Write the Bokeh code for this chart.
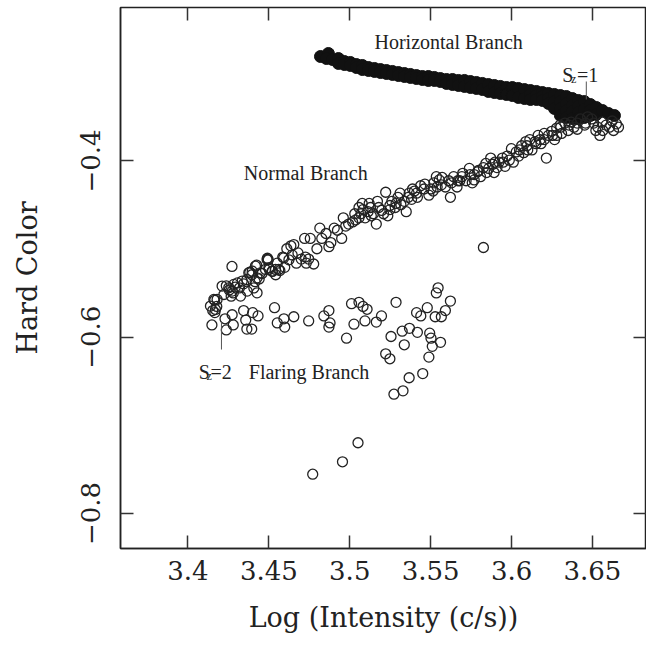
import math
from bokeh.plotting import figure
from bokeh.models import LinearAxis, FixedTicker, Range1d, ColumnDataSource
from bokeh.core.properties import value
from bokeh.embed import file_html
from bokeh.resources import INLINE

# ---------------- data ----------------
# Horizontal branch (filled circles)
hb_x = [3.4819, 3.4868, 3.4856, 3.4893, 3.4930, 3.4930, 3.4967, 3.4967, 3.5004, 3.5004,
        3.5041, 3.5041, 3.5078, 3.5078, 3.5116, 3.5116, 3.5153, 3.5153, 3.5190, 3.5190,
        3.5227, 3.5227, 3.5264, 3.5264, 3.5301, 3.5301, 3.5338, 3.5338, 3.5375, 3.5375,
        3.5412, 3.5412, 3.5449, 3.5449, 3.5486, 3.5486, 3.5523, 3.5523, 3.5560, 3.5560,
        3.5598, 3.5598, 3.5635, 3.5635, 3.5672, 3.5672, 3.5709, 3.5709, 3.5746, 3.5746,
        3.5783, 3.5783, 3.5820, 3.5820, 3.5857, 3.5857, 3.5894, 3.5894, 3.5931, 3.5931,
        3.5968, 3.5968, 3.6005, 3.6005, 3.6042, 3.6042, 3.6080, 3.6080,
        3.6117, 3.6117, 3.6117, 3.6154, 3.6154, 3.6154, 3.6191, 3.6191, 3.6191,
        3.6228, 3.6228, 3.6228, 3.6265, 3.6265, 3.6265,
        3.6302, 3.6302, 3.6302, 3.6302, 3.6339, 3.6339, 3.6339, 3.6339,
        3.6376, 3.6376, 3.6376, 3.6376, 3.6413, 3.6413, 3.6413, 3.6413,
        3.6450, 3.6450, 3.6450, 3.6487, 3.6487, 3.6487, 3.6524, 3.6524,
        3.6562, 3.6599, 3.6636]
hb_y = [-0.2814, -0.2780, -0.2837, -0.2848, -0.2837, -0.2893, -0.2871, -0.2905, -0.2882, -0.2916,
        -0.2905, -0.2939, -0.2916, -0.2962, -0.2939, -0.2973, -0.2950, -0.2984, -0.2962, -0.2996,
        -0.2973, -0.3007, -0.2984, -0.3018, -0.2996, -0.3030, -0.3007, -0.3041, -0.3018, -0.3052,
        -0.3030, -0.3064, -0.3041, -0.3075, -0.3041, -0.3086, -0.3052, -0.3086, -0.3064, -0.3098,
        -0.3075, -0.3120, -0.3075, -0.3132, -0.3086, -0.3143, -0.3086, -0.3154, -0.3098, -0.3166,
        -0.3109, -0.3177, -0.3120, -0.3189, -0.3132, -0.3211, -0.3143, -0.3223, -0.3154, -0.3234,
        -0.3166, -0.3245, -0.3166, -0.3257, -0.3177, -0.3279, -0.3189, -0.3291,
        -0.3200, -0.3245, -0.3302, -0.3211, -0.3257, -0.3302, -0.3223, -0.3268, -0.3313,
        -0.3234, -0.3291, -0.3347, -0.3245, -0.3325, -0.3404,
        -0.3257, -0.3325, -0.3404, -0.3484, -0.3268, -0.3347, -0.3427, -0.3506,
        -0.3291, -0.3370, -0.3438, -0.3518, -0.3313, -0.3381, -0.3450, -0.3518,
        -0.3325, -0.3416, -0.3506, -0.3359, -0.3427, -0.3484, -0.3393, -0.3472,
        -0.3427, -0.3461, -0.3484]

# Normal branch (open circles)
nb_x = [3.4165, 3.4178, 3.4237, 3.4255, 3.4267, 3.4272, 3.4293, 3.4280, 3.4306, 3.4318,
        3.4344, 3.4364, 3.4382, 3.4395, 3.4407, 3.4415, 3.4425, 3.4440, 3.4458, 3.4491,
        3.4502, 3.4496, 3.4522, 3.4542, 3.4552, 3.4568, 3.4586, 3.4598, 3.4611, 3.4624,
        3.4636, 3.4644, 3.4654, 3.4670, 3.4680, 3.4700, 3.4721, 3.4726, 3.4731, 3.4746,
        3.4756, 3.4777, 3.4797, 3.4815, 3.4827, 3.4853, 3.4871, 3.4883, 3.4904, 3.4924,
        3.4950, 3.4960, 3.4975, 3.4993, 3.5018, 3.5036, 3.5057, 3.5069, 3.5082, 3.5095,
        3.5113, 3.5128, 3.5146, 3.5164, 3.5179, 3.5197, 3.5222, 3.5235, 3.5248, 3.5260,
        3.5281, 3.5298, 3.5316, 3.5337, 3.5349, 3.5367, 3.5382, 3.5400, 3.5418, 3.5438,
        3.5459, 3.5464, 3.5489, 3.5502, 3.5520, 3.5535, 3.5553, 3.5571, 3.5591, 3.5612,
        3.5622, 3.5629, 3.5642, 3.5663, 3.5680, 3.5698, 3.5719, 3.5739, 3.5757, 3.5769,
        3.5790, 3.5808, 3.5826, 3.5841, 3.5859, 3.5871, 3.5892, 3.5910, 3.5922, 3.5943,
        3.5960, 3.5973, 3.5999, 3.6011, 3.6029, 3.6044, 3.6062, 3.6075, 3.6095, 3.6113,
        3.6126, 3.6146, 3.6164, 3.6182, 3.6202, 3.6215, 3.6228, 3.6248, 3.6266, 3.6279,
        3.6299, 3.6309, 3.6330, 3.6350, 3.6368, 3.6386, 3.6406, 3.6426, 3.6452, 3.6470,
        3.6508, 3.6533, 3.6546, 3.6564, 3.6584, 3.6605, 3.6630, 3.6648, 3.6661, 3.6622,
        3.6559, 3.6521, 3.6495,
        3.5077, 3.5120, 3.5171, 3.5209, 3.5133, 3.5286, 3.5311, 3.5388, 3.5413, 3.5540,
        3.5566, 3.5693, 3.5744, 3.5795, 3.5846, 3.5897, 3.5948, 3.6049, 3.6100, 3.6151,
        3.6202, 3.6253, 3.6304, 3.6355, 3.6406, 3.6457, 3.6279, 3.6177, 3.6088, 3.5986,
        3.5884, 3.5769, 3.5668, 3.5515, 3.5362, 3.5248, 3.5057, 3.5031,
        3.4211, 3.4252, 3.4273, 3.4283, 3.4335, 3.4376, 3.4397, 3.4417, 3.4427, 3.4448,
        3.4479, 3.4489, 3.4500, 3.4520, 3.4541, 3.4561, 3.4592,
        3.4160, 3.4180, 3.4222, 3.4325, 3.4366, 3.4427, 3.4139, 3.4170]
nb_y = [-0.5581, -0.5651, -0.5417, -0.5464, -0.5534, -0.5197, -0.5431, -0.5497, -0.5384, -0.5441,
        -0.5394, -0.5347, -0.5263, -0.5291, -0.5441, -0.5370, -0.5183, -0.5338, -0.5277, -0.5104,
        -0.5230, -0.5122, -0.5253, -0.5291, -0.5160, -0.5244, -0.5090, -0.5207, -0.4996, -0.5122,
        -0.4963, -0.5066, -0.4949, -0.5160, -0.5043, -0.5113, -0.4879, -0.5090, -0.5160, -0.5113,
        -0.4879, -0.5169, -0.4996, -0.4762, -0.4879, -0.4823, -0.4973, -0.4926, -0.4762, -0.4786,
        -0.4879, -0.4645, -0.4739, -0.4716, -0.4692, -0.4669, -0.4528, -0.4599, -0.4552, -0.4645,
        -0.4575, -0.4528, -0.4599, -0.4716, -0.4528, -0.4561, -0.4355, -0.4622, -0.4505, -0.4458,
        -0.4528, -0.4412, -0.4496, -0.4458, -0.4575, -0.4365, -0.4435, -0.4341, -0.4412, -0.4281,
        -0.4318, -0.4262, -0.4388, -0.4318, -0.4248, -0.4178, -0.4215, -0.4187, -0.4295, -0.4224,
        -0.4412, -0.4248, -0.4178, -0.4295, -0.4224, -0.4140, -0.4224, -0.4084, -0.4248, -0.4154,
        -0.4122, -0.4178, -0.4075, -0.4028, -0.4084, -0.3967, -0.4131, -0.4075, -0.4014, -0.3967,
        -0.4061, -0.3944, -0.3860, -0.4014, -0.3897, -0.3944, -0.3827, -0.3906, -0.3827, -0.3757,
        -0.3874, -0.3780, -0.3710, -0.3804, -0.3757, -0.3967, -0.3710, -0.3663, -0.3757, -0.3626,
        -0.3593, -0.3687, -0.3570, -0.3654, -0.3560, -0.3616, -0.3570, -0.3523, -0.3593, -0.3500,
        -0.3570, -0.3616, -0.3710, -0.3654, -0.3593, -0.3616, -0.3654, -0.3579, -0.3616, -0.3546,
        -0.3560, -0.3654, -0.3523,
        -0.4482, -0.4482, -0.4458, -0.4599, -0.4622, -0.4482, -0.4365, -0.4318, -0.4365, -0.4295,
        -0.4271, -0.4178, -0.4154, -0.4108, -0.4131, -0.4014, -0.4014, -0.3874, -0.3874, -0.3804,
        -0.3687, -0.3710, -0.3616, -0.3593, -0.3640, -0.3570, -0.3710, -0.3757, -0.3780, -0.3991,
        -0.4037, -0.4215, -0.4224, -0.4341, -0.4412, -0.4552, -0.4645, -0.4599,
        -0.5420, -0.5439, -0.5477, -0.5401, -0.5363, -0.5269, -0.5250, -0.5193, -0.5326, -0.5269,
        -0.5231, -0.5118, -0.5212, -0.5250, -0.5231, -0.5231, -0.5099,
        -0.5571, -0.5571, -0.5515, -0.5533, -0.5477, -0.5496, -0.5647, -0.5685]

# Flaring branch (open circles)
fb_x = [3.4153, 3.4148, 3.4166, 3.4237, 3.4229, 3.4280, 3.4273, 3.4344, 3.4364, 3.4357,
        3.4394, 3.4433, 3.4400, 3.4535, 3.4552, 3.4593, 3.4598, 3.4654, 3.4746, 3.4840,
        3.4871, 3.4871, 3.4878, 3.4980, 3.5011, 3.5026, 3.5057, 3.5082, 3.5094, 3.5107,
        3.5164, 3.5196, 3.5286, 3.5255, 3.5324, 3.5337, 3.5369, 3.5418, 3.5413, 3.5439,
        3.5479, 3.5494, 3.5502, 3.5510, 3.5489, 3.5528, 3.5561, 3.5566, 3.5591, 3.5622,
        3.5535, 3.5546, 3.5222, 3.5248, 3.5367, 3.5451, 3.5273, 3.5329, 3.5051, 3.4955,
        3.4771, 3.5826]
fb_y = [-0.5698, -0.5861, -0.5721, -0.5917, -0.5791, -0.5861, -0.5745, -0.5698, -0.5908, -0.5806,
        -0.5908, -0.5758, -0.5721, -0.5665, -0.5838, -0.5791, -0.5885, -0.5768, -0.5815, -0.5758,
        -0.5698, -0.5885, -0.5838, -0.6011, -0.5619, -0.5852, -0.5604, -0.5651, -0.5815, -0.5683,
        -0.5828, -0.5758, -0.5604, -0.5992, -0.5932, -0.6086, -0.5899, -0.5945, -0.5721, -0.5758,
        -0.5665, -0.5954, -0.6011, -0.6104, -0.6226, -0.5768, -0.6058, -0.5768, -0.5698, -0.5590,
        -0.5497, -0.5440, -0.6188, -0.6245, -0.6460, -0.6413, -0.6647, -0.6609, -0.7198, -0.7414,
        -0.7555, -0.4982]

x_ticks = [3.4, 3.45, 3.5, 3.55, 3.6, 3.65]
x_tick_labels = ["3.4", "3.45", "3.5", "3.55", "3.6", "3.65"]
y_ticks = [-0.8, -0.6, -0.4]
y_tick_labels = ["\u22120.8", "\u22120.6", "\u22120.4"]

ann_text = ["Horizontal Branch", "Normal Branch", "S", "=1", "S", "=2", "Flaring Branch"]
ann_x = [3.5153, 3.4345, 3.6314, 3.6404, 3.4067, 3.4139, 3.4376]
ann_y = [-0.2652, -0.4134, -0.3024, -0.3024, -0.6400, -0.6400, -0.6400]
sub_text = ["z", "z"]
sub_x = [3.6368, 3.4115]
sub_y = [-0.3068, -0.6440]
lead_x = [3.6462, 3.4207]
lead_y0 = [-0.3098, -0.5822]
lead_y1 = [-0.3302, -0.6140]

# ---------------- figure ----------------
p = figure(frame_width=526, frame_height=541,
           x_range=Range1d(3.3583, 3.6834), y_range=Range1d(-0.8398, -0.2258),
           output_backend="svg", toolbar_location=None,
           min_border_left=120, min_border_right=0, min_border_top=7, min_border_bottom=91,
           x_axis_label="Log (Intensity (c/s))", y_axis_label="Hard Color")
p.xgrid.visible = False
p.ygrid.visible = False
p.outline_line_color = "#222222"
p.outline_line_width = 1.5
p.background_fill_color = "white"
p.border_fill_color = "white"

serif = "DejaVu Serif"
for ax in (p.xaxis[0], p.yaxis[0]):
    ax.major_tick_in = 13
    ax.major_tick_out = 0
    ax.minor_tick_in = 0
    ax.minor_tick_out = 0
    ax.major_tick_line_color = "#333333"
    ax.major_tick_line_width = 1.5
    ax.axis_line_color = "#222222"
    ax.axis_line_width = 1.5
    ax.major_label_text_font = serif
    ax.major_label_text_font_size = "26px"
    ax.major_label_text_color = "#222222"
    ax.axis_label_text_font = serif
    ax.axis_label_text_font_size = "27px"
    ax.axis_label_text_font_style = "normal"
    ax.axis_label_text_color = "#222222"

p.xaxis[0].ticker = FixedTicker(ticks=x_ticks)
p.xaxis[0].major_label_overrides = dict(zip(x_ticks, x_tick_labels))
p.xaxis[0].major_label_standoff = 12
p.xaxis[0].axis_label_standoff = 19

p.yaxis[0].ticker = FixedTicker(ticks=y_ticks)
p.yaxis[0].major_label_overrides = dict(zip(y_ticks, y_tick_labels))
p.yaxis[0].major_label_orientation = "parallel"
p.yaxis[0].major_label_standoff = 20
p.yaxis[0].axis_label_standoff = 36

top_axis = LinearAxis(ticker=FixedTicker(ticks=x_ticks), major_label_text_font_size="0px",
                      major_tick_in=13, major_tick_out=0, minor_tick_in=0, minor_tick_out=0,
                      major_label_standoff=0, axis_line_color=None,
                      major_tick_line_color="#333333", major_tick_line_width=1.5)
right_axis = LinearAxis(ticker=FixedTicker(ticks=y_ticks), major_label_text_font_size="0px",
                        major_tick_in=13, major_tick_out=0, minor_tick_in=0, minor_tick_out=0,
                        major_label_standoff=0, axis_line_color=None,
                        major_tick_line_color="#333333", major_tick_line_width=1.5)
p.add_layout(top_axis, "above")
p.add_layout(right_axis, "right")

p.scatter(hb_x, hb_y, marker="circle", size=12, fill_color="#111111", line_color="#111111", line_width=1)
p.scatter(nb_x, nb_y, marker="circle", size=10, fill_color=None, line_color="#222222", line_width=1.3)
p.scatter(fb_x, fb_y, marker="circle", size=10, fill_color=None, line_color="#222222", line_width=1.3)

p.segment(x0=lead_x, y0=lead_y0, x1=lead_x, y1=lead_y1, line_color="#555555", line_width=1)

ann_src = ColumnDataSource(dict(x=ann_x, y=ann_y, t=ann_text))
p.text(x="x", y="y", text="t", source=ann_src, text_font=value("Liberation Serif"),
       text_font_size="20px", text_color="#222222", text_align="left", text_baseline="alphabetic")
sub_src = ColumnDataSource(dict(x=sub_x, y=sub_y, t=sub_text))
p.text(x="x", y="y", text="t", source=sub_src, text_font=value("Liberation Serif"),
       text_font_size="12px", text_color="#222222", text_align="left", text_baseline="alphabetic")

open("out.html", "w").write(file_html(p, INLINE))
